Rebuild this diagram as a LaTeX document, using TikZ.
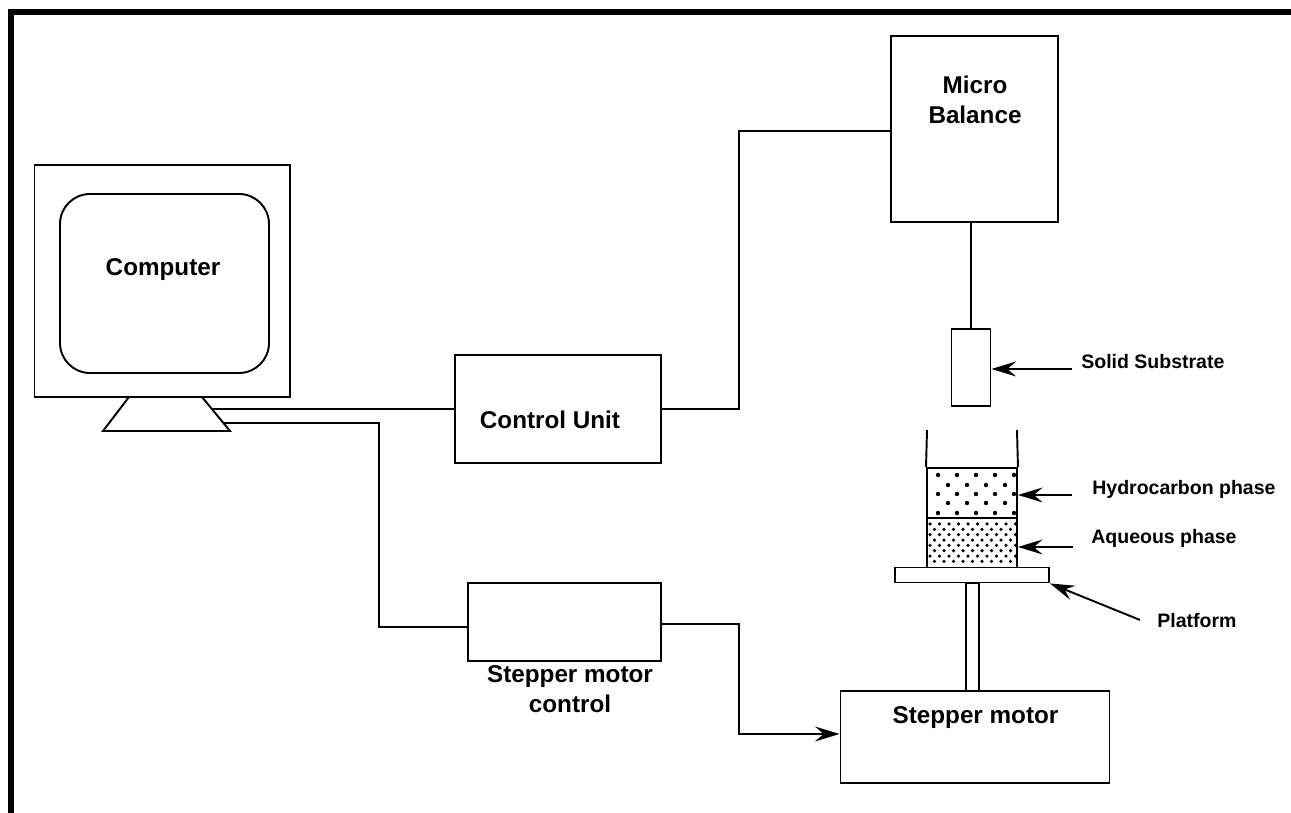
\documentclass[tikz,border=0pt]{standalone}
\usepackage{fontspec}
\setmainfont{Liberation Sans}
\usetikzlibrary{shapes.geometric,arrows.meta,positioning,calc}

\begin{document}
\begin{tikzpicture}[
  box/.style={draw, line width=1.1pt, inner sep=0pt},
  wire/.style={line width=1.1pt},
  tag/.style={font=\bfseries\fontsize{13.8}{17}\selectfont, align=center, inner sep=0pt},
  small tag/.style={font=\bfseries\fontsize{11.1}{13}\selectfont, anchor=west, inner sep=0pt},
  pointer/.style={line width=1.1pt, -{Stealth[length=14pt,width=8.5pt,inset=5pt]}},
  speck/.style={fill=black, inner sep=0pt, circle},
]
\useasboundingbox (0,0) rectangle (25.82,16.26);

% outer frame
\draw[line width=3.4pt] (0.22,0) -- (0.22,16.02) -- (25.82,16.02);

% computer
\node[box, minimum width=5.11cm, minimum height=4.64cm] (monitor) at (3.245,10.64) {};
\node[box, rounded corners=0.6cm, minimum width=4.18cm, minimum height=3.58cm] (screen) at (3.29,10.59) {};
\node[tag] (comptxt) at (3.26,10.86) {Computer};
\coordinate (standTL) at (2.58,8.32);
\coordinate (standTR) at (4.04,8.32);
\coordinate (standBR) at (4.6,7.64);
\coordinate (standBL) at (2.06,7.64);
\draw[wire, line join=miter] (standTL) -- (standBL) -- (standBR) -- (standTR);

% units
\node[box, minimum width=4.12cm, minimum height=2.16cm] (ctrl) at (11.16,8.08) {};
\node[tag] (ctrltxt) at (11,7.86) {Control Unit};
\node[box, minimum width=3.86cm, minimum height=1.56cm] (stepctrl) at (11.29,3.82) {};
\node[tag] (stepctrltxt) at (11.4,2.47) {Stepper motor\\control};
\node[box, minimum width=5.38cm, minimum height=1.84cm] (motor) at (19.5,1.52) {};
\node[tag] (motortxt) at (19.51,1.9) {Stepper motor};
\node[box, minimum width=3.34cm, minimum height=3.72cm] (balance) at (19.49,13.68) {};
\node[tag] (balancetxt) at (19.5,14.27) {Micro\\Balance};

% substrate, beaker, platform and rod
\node[box, minimum width=0.78cm, minimum height=1.54cm] (substrate) at (19.42,8.91) {};
\node[box, minimum width=3.08cm, minimum height=0.3cm] (platform) at (19.44,4.76) {};
\node[box, minimum width=0.26cm, minimum height=2.16cm] (rod) at (19.45,3.52) {};
\node[box, minimum width=1.8cm, minimum height=1cm] (hydro) at (19.44,6.4) {};
\node[box, minimum width=1.8cm, minimum height=0.98cm] (aqua) at (19.44,5.4) {};
\coordinate (wallL) at (18.54,7.66);
\coordinate (wallR) at (20.34,7.66);
\draw[wire] (wallL) -- (hydro.north west);
\draw[wire] (wallR) -- (hydro.north east);

% dots of the two phases
\foreach \i in {0,...,4} \foreach \j in {0,1,2}
  \node[speck, minimum size=2.5pt] at ({18.76+0.38*\i},{6.76-0.38*\j}) {};
\foreach \i in {0,...,3} \foreach \j in {0,1}
  \node[speck, minimum size=2.5pt] at ({18.96+0.38*\i},{6.56-0.36*\j}) {};
\foreach \i in {0,...,9} \foreach \j in {0,...,3}
  \node[speck, minimum size=2pt] at ({18.6+0.19*\i},{5.78-0.214*\j}) {};
\foreach \i in {0,...,8} \foreach \j in {0,...,3}
  \node[speck, minimum size=2pt] at ({18.69+0.19*\i},{5.673-0.214*\j}) {};

% labels on the right
\node[small tag] (solidtxt) at (21.62,9.02) {Solid Substrate};
\node[small tag] (hydrotxt) at (21.84,6.48) {Hydrocarbon phase};
\node[small tag] (aquatxt) at (21.82,5.5) {Aqueous phase};
\node[small tag] (plattxt) at (23.14,3.84) {Platform};

% connectors
\coordinate (standA) at ($(standTR)!0.35!(standBR)$);
\coordinate (standB) at ($(standTR)!0.76!(standBR)$);
\draw[wire] (standA) -- (standA -| ctrl.west);
\draw[wire] (standB) -| ($(stepctrl.west)+(-1.76,-0.1)$) -- ($(stepctrl.west)+(0,-0.1)$);
\draw[wire] (ctrl.east) -- ++(1.54,0) |- ($(balance.west)+(0,-0.04)$);
\draw[wire] (balance.south -| substrate.north) -- (substrate.north);
\draw[pointer] ($(stepctrl.east)+(0,-0.04)$) -- ++(1.54,0) |- ($(motor.west)+(0,0.06)$);
\coordinate (solidend) at (21.44,8.88);
\coordinate (hydroend) at (21.44,6.36);
\coordinate (aquaend) at (21.46,5.32);
\coordinate (platend) at (22.8,3.86);
\draw[pointer] (solidend) -- (solidend -| substrate.east);
\draw[pointer] (hydroend) -- (hydroend -| hydro.east);
\draw[pointer] (aquaend) -- (aquaend -| aqua.east);
\draw[pointer] (platend) -- (platform.south east);
\end{tikzpicture}
\end{document}
